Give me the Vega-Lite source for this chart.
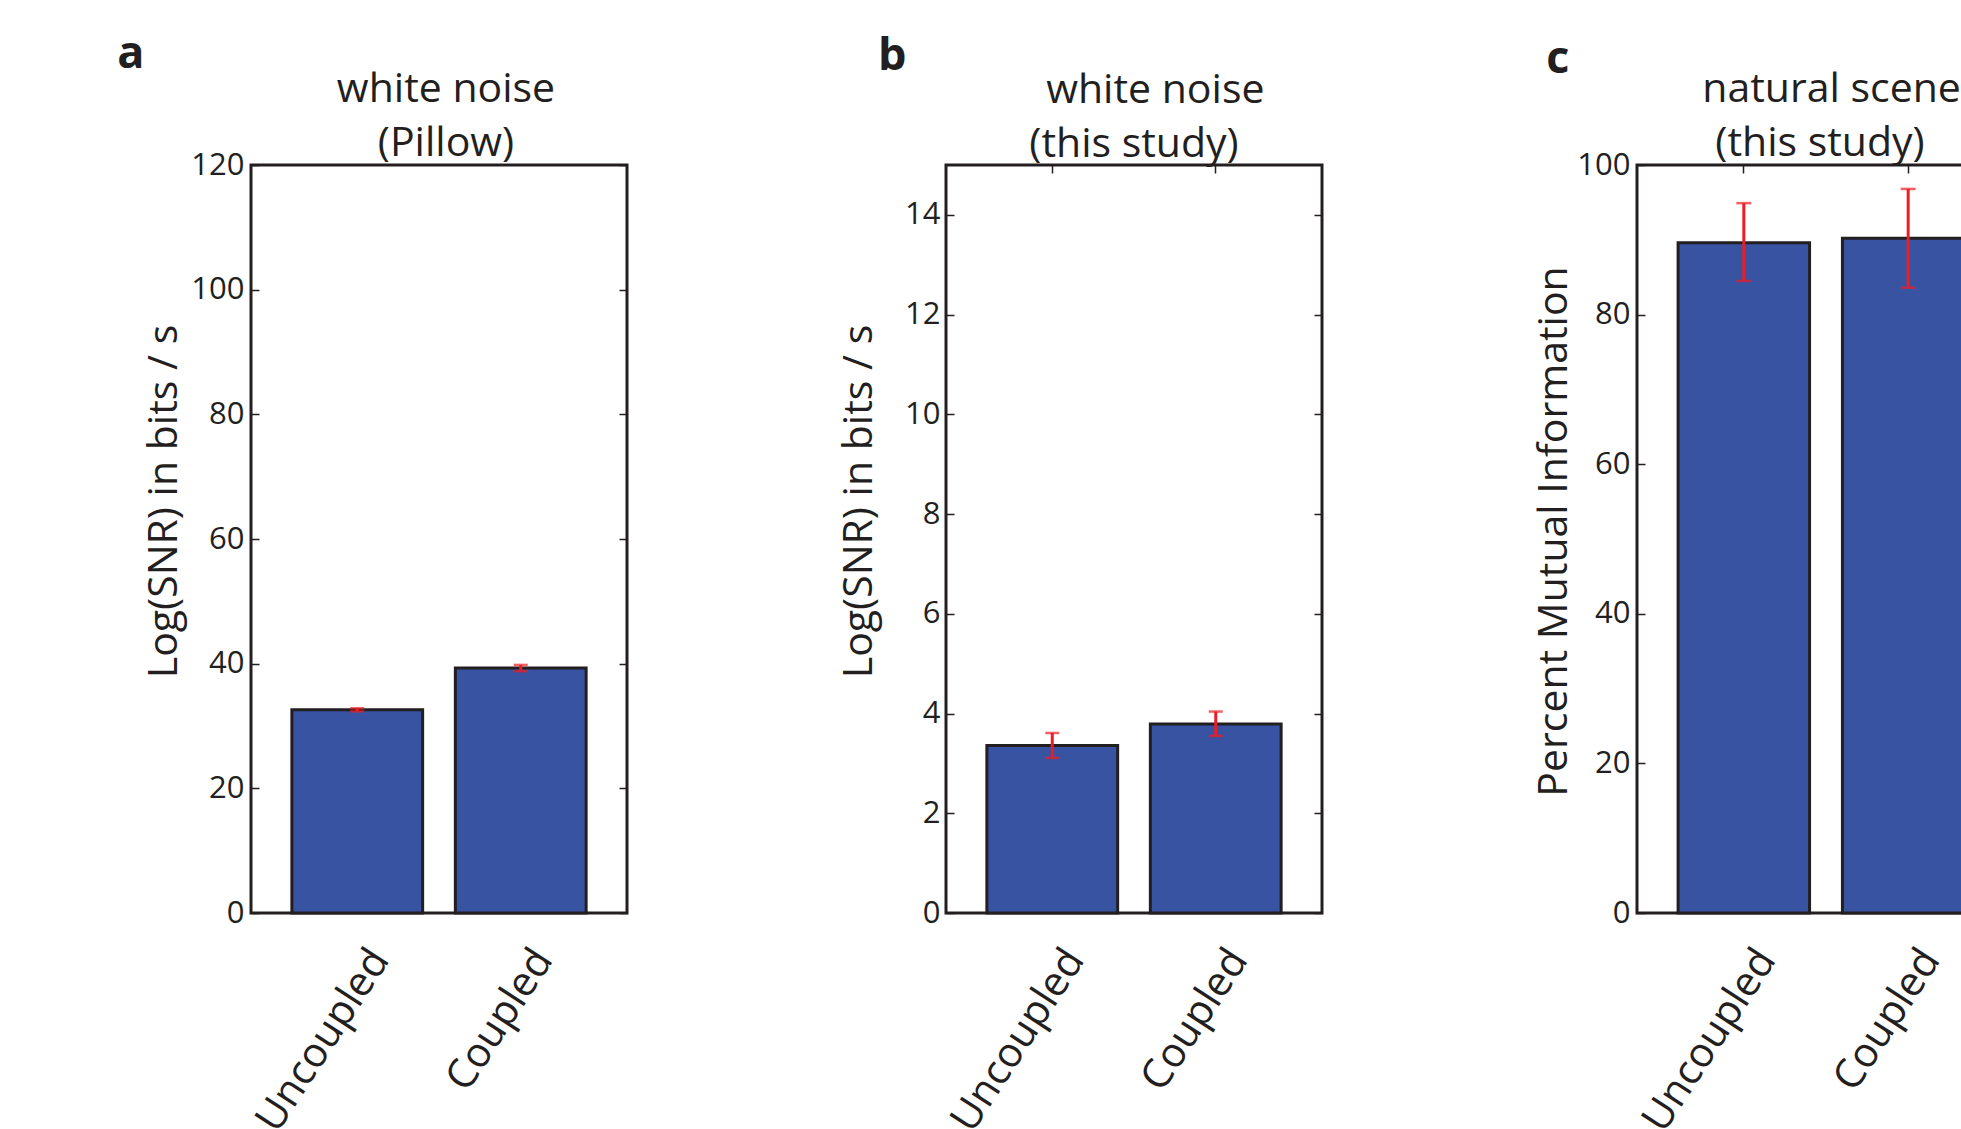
{
  "$schema": "https://vega.github.io/schema/vega-lite/v6.json",
  "background": "white",
  "padding": {"left": 117, "top": 31, "right": 0, "bottom": 0},
  "config": {
    "font": "Open Sans",
    "view": {"stroke": "#231f20", "strokeWidth": 3},
    "axis": {"domain": false, "grid": false, "zindex": 1, "tickSize": -8, "tickColor": "#231f20", "tickWidth": 1.5, "labelColor": "#231f20", "titleColor": "#231f20", "labelFont": "Open Sans", "titleFont": "Open Sans", "labelFontSize": 31, "titleFontSize": 41, "titleFontWeight": "normal", "labelLimit": 0},
    "concat": {"spacing": 207}
  },
  "datasets": {
    "a": [
      {"condition": "Uncoupled", "value": 32.6, "lo": 32.35, "hi": 32.85},
      {"condition": "Coupled", "value": 39.3, "lo": 38.8, "hi": 39.8}
    ],
    "b": [
      {"condition": "Uncoupled", "value": 3.36, "lo": 3.11, "hi": 3.61},
      {"condition": "Coupled", "value": 3.79, "lo": 3.55, "hi": 4.04}
    ],
    "c": [
      {"condition": "Uncoupled", "value": 89.6, "lo": 84.5, "hi": 94.9},
      {"condition": "Coupled", "value": 90.2, "lo": 83.6, "hi": 96.8}
    ]
  },
  "hconcat": [
    {
      "title": {"text": "a", "anchor": "start", "fontSize": 45, "fontWeight": "bold", "color": "#231f20", "offset": -9, "dx": -25},
      "vconcat": [
        {
          "title": {"text": ["white noise", "(Pillow)"], "anchor": "middle", "frame": "group", "fontSize": 41, "fontWeight": "normal", "lineHeight": 54, "offset": -16, "dx": 7, "color": "#231f20"},
          "width": 376,
          "height": 748,
          "data": {"name": "a"},
          "layer": [
            {
              "mark": {"type": "bar", "fill": "#3953a3", "stroke": "#231f20", "strokeWidth": 3},
              "encoding": {
                "x": {"field": "condition", "type": "nominal", "sort": ["Uncoupled", "Coupled"], "scale": {"paddingInner": 0.2, "paddingOuter": 0.25}, "axis": {"orient": "bottom", "title": null, "labelAngle": -57, "labelFontSize": 41, "labelPadding": 48, "labelOffset": 23}},
                "y": {"field": "value", "type": "quantitative", "scale": {"domain": [0, 120], "nice": false}, "axis": {"orient": "left", "title": "Log(SNR) in bits / s", "values": [0, 20, 40, 60, 80, 100, 120], "labelPadding": 15, "titlePadding": 5, "titleY": 336}}
              }
            },
            {
              "mark": {"type": "rule", "color": "#ed1c24", "strokeWidth": 3},
              "encoding": {
                "x": {"field": "condition", "type": "nominal", "sort": ["Uncoupled", "Coupled"], "axis": null},
                "y": {"field": "lo", "type": "quantitative", "axis": {"orient": "right", "labels": false, "title": null, "values": [0, 20, 40, 60, 80, 100, 120]}},
                "y2": {"field": "hi"}
              }
            },
            {
              "mark": {"type": "tick", "color": "#ed1c24", "thickness": 2.5, "size": 14},
              "encoding": {
                "x": {"field": "condition", "type": "nominal", "sort": ["Uncoupled", "Coupled"], "axis": null},
                "y": {"field": "lo", "type": "quantitative", "axis": null}
              }
            },
            {
              "mark": {"type": "tick", "color": "#ed1c24", "thickness": 2.5, "size": 14},
              "encoding": {
                "x": {"field": "condition", "type": "nominal", "sort": ["Uncoupled", "Coupled"], "axis": null},
                "y": {"field": "hi", "type": "quantitative", "axis": null}
              }
            }
          ],
          "resolve": {"axis": {"x": "independent", "y": "independent"}}
        }
      ]
    },
    {
      "title": {"text": "b", "anchor": "start", "fontSize": 45, "fontWeight": "bold", "color": "#231f20", "offset": -9, "dx": 41, "dy": 1},
      "vconcat": [
        {
          "title": {"text": ["\u200b\u00a0\u00a0\u00a0\u00a0white noise", "(this study)"], "anchor": "middle", "frame": "group", "fontSize": 41, "fontWeight": "normal", "lineHeight": 54, "offset": -2, "color": "#231f20"},
          "width": 376,
          "height": 748,
          "data": {"name": "b"},
          "layer": [
            {
              "mark": {"type": "bar", "fill": "#3953a3", "stroke": "#231f20", "strokeWidth": 3},
              "encoding": {
                "x": {"field": "condition", "type": "nominal", "sort": ["Uncoupled", "Coupled"], "scale": {"paddingInner": 0.2, "paddingOuter": 0.25}, "axis": {"orient": "bottom", "title": null, "labelAngle": -57, "labelFontSize": 41, "labelPadding": 48, "labelOffset": 23}},
                "y": {"field": "value", "type": "quantitative", "scale": {"domain": [0, 15], "nice": false}, "axis": {"orient": "left", "title": "Log(SNR) in bits / s", "values": [0, 2, 4, 6, 8, 10, 12, 14], "labelPadding": 14, "titlePadding": 24, "titleY": 336}}
              }
            },
            {
              "mark": {"type": "rule", "color": "#ed1c24", "strokeWidth": 3},
              "encoding": {
                "x": {"field": "condition", "type": "nominal", "sort": ["Uncoupled", "Coupled"], "axis": {"orient": "top", "labels": false, "title": null}},
                "y": {"field": "lo", "type": "quantitative", "axis": {"orient": "right", "labels": false, "title": null, "values": [0, 2, 4, 6, 8, 10, 12, 14]}},
                "y2": {"field": "hi"}
              }
            },
            {
              "mark": {"type": "tick", "color": "#ed1c24", "thickness": 2.5, "size": 14},
              "encoding": {
                "x": {"field": "condition", "type": "nominal", "sort": ["Uncoupled", "Coupled"], "axis": null},
                "y": {"field": "lo", "type": "quantitative", "axis": null}
              }
            },
            {
              "mark": {"type": "tick", "color": "#ed1c24", "thickness": 2.5, "size": 14},
              "encoding": {
                "x": {"field": "condition", "type": "nominal", "sort": ["Uncoupled", "Coupled"], "axis": null},
                "y": {"field": "hi", "type": "quantitative", "axis": null}
              }
            }
          ],
          "resolve": {"axis": {"x": "independent", "y": "independent"}}
        }
      ]
    },
    {
      "title": {"text": "c", "anchor": "start", "fontSize": 45, "fontWeight": "bold", "color": "#231f20", "offset": -9, "dx": 14, "dy": 5},
      "vconcat": [
        {
          "title": {"text": ["\u200b\u00a0\u00a0\u00a0\u00a0natural scenes", "(this study)"], "anchor": "middle", "frame": "group", "fontSize": 41, "fontWeight": "normal", "lineHeight": 54, "offset": -16, "dx": -6, "color": "#231f20"},
          "width": 378,
          "height": 748,
          "data": {"name": "c"},
          "layer": [
            {
              "mark": {"type": "bar", "fill": "#3953a3", "stroke": "#231f20", "strokeWidth": 3},
              "encoding": {
                "x": {"field": "condition", "type": "nominal", "sort": ["Uncoupled", "Coupled"], "scale": {"paddingInner": 0.2, "paddingOuter": 0.25}, "axis": {"orient": "bottom", "title": null, "labelAngle": -57, "labelFontSize": 41, "labelPadding": 48, "labelOffset": 23}},
                "y": {"field": "value", "type": "quantitative", "scale": {"domain": [0, 100], "nice": false}, "axis": {"orient": "left", "title": "Percent Mutual Information", "values": [0, 20, 40, 60, 80, 100], "labelPadding": 15, "titlePadding": 1, "titleY": 366}}
              }
            },
            {
              "mark": {"type": "rule", "color": "#ed1c24", "strokeWidth": 3},
              "encoding": {
                "x": {"field": "condition", "type": "nominal", "sort": ["Uncoupled", "Coupled"], "axis": {"orient": "top", "labels": false, "title": null}},
                "y": {"field": "lo", "type": "quantitative", "axis": null},
                "y2": {"field": "hi"}
              }
            },
            {
              "mark": {"type": "tick", "color": "#ed1c24", "thickness": 2.5, "size": 15},
              "encoding": {
                "x": {"field": "condition", "type": "nominal", "sort": ["Uncoupled", "Coupled"], "axis": null},
                "y": {"field": "lo", "type": "quantitative", "axis": null}
              }
            },
            {
              "mark": {"type": "tick", "color": "#ed1c24", "thickness": 2.5, "size": 15},
              "encoding": {
                "x": {"field": "condition", "type": "nominal", "sort": ["Uncoupled", "Coupled"], "axis": null},
                "y": {"field": "hi", "type": "quantitative", "axis": null}
              }
            }
          ],
          "resolve": {"axis": {"x": "independent", "y": "independent"}}
        }
      ]
    }
  ]
}
